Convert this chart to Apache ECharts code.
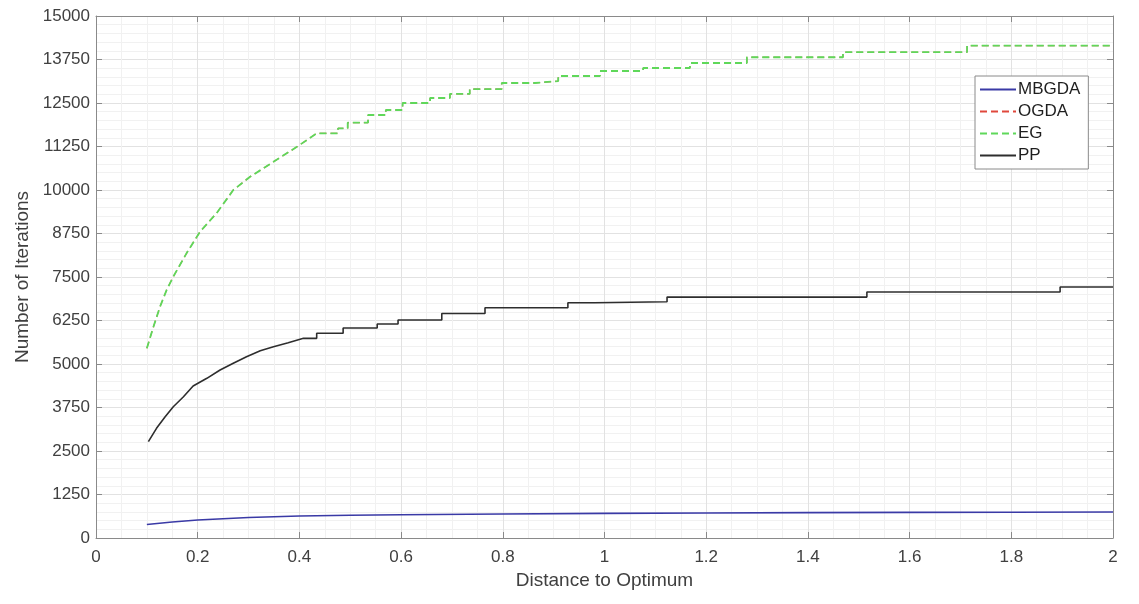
<!DOCTYPE html>
<html lang="en">
<head>
    <meta charset="UTF-8">
    <title>Iterations vs distance</title>
    <script src="https://cdn.jsdelivr.net/npm/echarts@6/dist/echarts.min.js"></script>
    <style>
        html, body { margin: 0; padding: 0; background: #fff; }
        #main { width: 1139px; height: 604px; }
    </style>
</head>
<body>
<div id="main"></div>

<script>
    // axis ticks
    var xTicks = [0, 0.2, 0.4, 0.6, 0.8, 1, 1.2, 1.4, 1.6, 1.8, 2];
    var yTicks = [0, 1250, 2500, 3750, 5000, 6250, 7500, 8750, 10000, 11250, 12500, 13750, 15000];
    var legendNames = ['MBGDA', 'OGDA', 'EG', 'PP'];

    // MBGDA - smooth curve
    var mbgdaX = [0.1, 0.15, 0.2, 0.3, 0.4, 0.5, 0.6, 0.8, 1.0, 1.2, 1.4, 1.6, 1.8, 2.0];
    var mbgdaY = [390, 460, 517, 590, 632, 655, 670, 690, 709, 718, 728, 735, 742, 747];

    // EG - fine part at the start, then step levels (x where the new level starts)
    var egCurveX = [0.1, 0.113, 0.126, 0.139, 0.152, 0.165, 0.178, 0.2045, 0.237, 0.27, 0.303, 0.349, 0.395, 0.434];
    var egCurveY = [5450, 6070, 6650, 7130, 7510, 7845, 8180, 8800, 9330, 10000, 10380, 10810, 11240, 11630];
    var egStepX = [0.476, 0.495, 0.535, 0.57, 0.603, 0.657, 0.696, 0.735, 0.798, 0.863, 0.909, 0.991, 1.076, 1.168, 1.28, 1.469, 1.713];
    var egStepY = [11773, 11935, 12155, 12299, 12500, 12644, 12760, 12900, 13075, 13130, 13276, 13420, 13506, 13650, 13815, 13960, 14146];

    // OGDA - lies under EG
    var ogdaCurveX = [0.1, 0.113, 0.126, 0.139, 0.152, 0.165, 0.178, 0.2045, 0.237, 0.27, 0.303, 0.349, 0.395, 0.434];
    var ogdaCurveY = [5450, 6070, 6650, 7130, 7510, 7845, 8180, 8800, 9330, 10000, 10380, 10810, 11240, 11630];
    var ogdaStepX = [0.476, 0.495, 0.535, 0.57, 0.603, 0.657, 0.696, 0.735, 0.798, 0.863, 0.909, 0.991, 1.076, 1.168, 1.28, 1.469, 1.713];
    var ogdaStepY = [11773, 11935, 12155, 12299, 12500, 12644, 12760, 12900, 13075, 13130, 13276, 13420, 13506, 13650, 13815, 13960, 14146];

    // PP
    var ppCurveX = [0.103, 0.119, 0.136, 0.152, 0.172, 0.191, 0.218, 0.244, 0.27, 0.296, 0.323, 0.349, 0.378, 0.408];
    var ppCurveY = [2767, 3152, 3486, 3773, 4060, 4368, 4589, 4828, 5020, 5210, 5383, 5497, 5612, 5737];
    var ppStepX = [0.434, 0.486, 0.553, 0.594, 0.68, 0.765, 0.928, 0.98, 1.123, 1.516, 1.896];
    var ppStepY = [5885, 6035, 6150, 6264, 6450, 6615, 6760, 6790, 6923, 7067, 7212];

    var xEnd = 2.0;

    function pairs(xs, ys) {
        var out = [];
        for (var i = 0; i < xs.length; i++) out.push([xs[i], ys[i]]);
        return out;
    }

    // curve part, then a staircase: level holds until next x, then jumps
    function stairs(cx, cy, sx, sy) {
        var out = pairs(cx, cy);
        var level = cy[cy.length - 1];
        for (var i = 0; i < sx.length; i++) {
            out.push([sx[i], level]);
            out.push([sx[i], sy[i]]);
            level = sy[i];
        }
        out.push([xEnd, level]);
        return out;
    }

    var font = 'Liberation Sans, Arial, sans-serif';
    var axisGray = '#8a8a8a';
    var textGray = '#404040';

    var myChart = echarts.init(document.getElementById('main'));

    var option = {
        animation: false,
        backgroundColor: '#fff',
        textStyle: { fontFamily: font },
        grid: { left: 96, right: 26, top: 16, bottom: 66 },
        legend: {
            data: legendNames,
            orient: 'vertical',
            left: 975,
            top: 76,
            padding: [5, 8, 5, 4],
            itemGap: 5,
            itemWidth: 36,
            itemHeight: 14,
            backgroundColor: '#fff',
            borderColor: '#8a8a8a',
            borderWidth: 1,
            borderRadius: 0,
            itemStyle: { opacity: 0 },
            textStyle: { fontSize: 17, color: '#1e1e1e', fontFamily: font, padding: [0, 0, 0, -3] }
        },
        xAxis: [
            {
                type: 'value',
                min: 0,
                max: 2,
                interval: 0.2,
                name: 'Distance to Optimum',
                nameLocation: 'middle',
                nameGap: 32,
                nameTextStyle: { fontSize: 19, color: textGray },
                axisLine: { show: true, onZero: false, lineStyle: { color: axisGray } },
                axisTick: { show: true, inside: true, length: 6, lineStyle: { color: axisGray } },
                axisLabel: { fontSize: 17, color: textGray, margin: 11 },
                splitLine: { show: true, lineStyle: { color: '#e2e2e2' } },
                minorTick: { show: false, splitNumber: 4 },
                minorSplitLine: { show: true, lineStyle: { color: '#f1f1f1' } }
            },
            {
                type: 'value',
                position: 'top',
                min: 0,
                max: 2,
                interval: 0.2,
                axisLine: { show: true, onZero: false, lineStyle: { color: axisGray } },
                axisTick: { show: true, inside: true, length: 6, lineStyle: { color: axisGray } },
                axisLabel: { show: false },
                splitLine: { show: false }
            }
        ],
        yAxis: [
            {
                type: 'value',
                min: 0,
                max: 15000,
                interval: 1250,
                name: 'Number of Iterations',
                nameLocation: 'middle',
                nameGap: 34,
                nameTextStyle: { fontSize: 19, color: textGray },
                axisLine: { show: true, onZero: false, lineStyle: { color: axisGray } },
                axisTick: { show: true, inside: true, length: 6, lineStyle: { color: axisGray } },
                axisLabel: { fontSize: 17, color: textGray, margin: 6, formatter: function (v) { return String(v); } },
                splitLine: { show: true, lineStyle: { color: '#e2e2e2' } },
                minorTick: { show: false, splitNumber: 5 },
                minorSplitLine: { show: true, lineStyle: { color: '#f1f1f1' } }
            },
            {
                type: 'value',
                position: 'right',
                min: 0,
                max: 15000,
                interval: 1250,
                axisLine: { show: true, onZero: false, lineStyle: { color: axisGray } },
                axisTick: { show: true, inside: true, length: 6, lineStyle: { color: axisGray } },
                axisLabel: { show: false },
                splitLine: { show: false }
            }
        ],
        series: [
            {
                name: 'MBGDA',
                type: 'line',
                symbol: 'none',
                color: '#3a3aa6',
                lineStyle: { width: 1.6, color: '#3a3aa6' },
                data: pairs(mbgdaX, mbgdaY)
            },
            {
                name: 'OGDA',
                type: 'line',
                symbol: 'none',
                color: '#e0483c',
                lineStyle: { width: 1.1, type: [7, 4], color: '#e0483c' },
                data: stairs(ogdaCurveX, ogdaCurveY, ogdaStepX, ogdaStepY)
            },
            {
                name: 'EG',
                type: 'line',
                symbol: 'none',
                color: '#5fd85a',
                lineStyle: { width: 1.8, type: [7, 4], color: '#5fd85a' },
                data: stairs(egCurveX, egCurveY, egStepX, egStepY)
            },
            {
                name: 'PP',
                type: 'line',
                symbol: 'none',
                color: '#2e2e2e',
                lineStyle: { width: 1.6, color: '#2e2e2e' },
                data: stairs(ppCurveX, ppCurveY, ppStepX, ppStepY)
            }
        ]
    };

    myChart.setOption(option);
</script>
</body>
</html>
